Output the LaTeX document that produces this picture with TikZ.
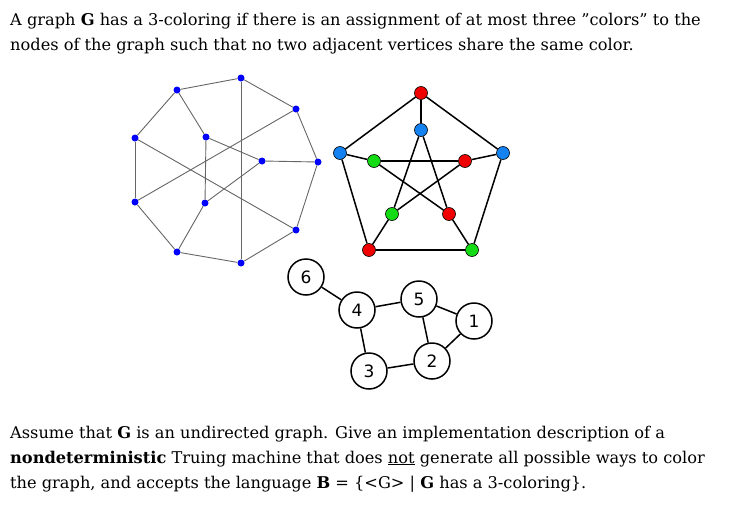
\documentclass[tikz,border=0pt]{standalone}
\usepackage{fontspec}
\setmainfont{DejaVu Serif}
\setsansfont{DejaVu Sans}
\begin{document}
\begin{tikzpicture}[x=1pt,y=-1pt,
  txt/.style={anchor=base west,inner sep=0,font=\fontsize{16.2}{19}\selectfont},
  bdot/.style={circle,fill=blue,inner sep=0,minimum size=7pt},
  cdot/.style={circle,draw=black,line width=0.6pt,inner sep=0,minimum size=13pt},
  gedge/.style={draw=gray!80!black,line width=0.9pt},
  pedge/.style={draw=black,line width=1.5pt},
  num/.style={circle,draw=black,line width=1.5pt,fill=white,inner sep=0,minimum size=36pt,font=\sffamily\fontsize{17}{17}\selectfont}]
\useasboundingbox (0,0) rectangle (740,509);
\node[txt] (t1) at (10,25) {A graph \textbf{G} has a 3-coloring if there is an assignment of at most three \symbol{34}colors\symbol{34} to the};
\node[txt] (t2) at (10,50) {nodes of the graph such that no two adjacent vertices share the same color.};
\node[txt] (t3) at (10,438) {Assume that \textbf{G} is an undirected graph. Give an implementation description of a};
\node[txt] (t4) at (10,463) {\textbf{nondeterministic} Truing machine that does \underline{not} generate all possible ways to color};
\node[txt] (t5) at (10,488) {the graph, and accepts the language \textbf{B} = \{<G> | \textbf{G} has a 3-coloring\}.};
% left graph
\node[bdot] (a) at (241,78) {};
\node[bdot] (b) at (177,90) {};
\node[bdot] (c) at (296,109) {};
\node[bdot] (d) at (135,138) {};
\node[bdot] (e) at (206,137) {};
\node[bdot] (f) at (262,161) {};
\node[bdot] (g) at (318,162) {};
\node[bdot] (h) at (135,202) {};
\node[bdot] (i) at (205,203) {};
\node[bdot] (j) at (296,230) {};
\node[bdot] (k) at (177,252) {};
\node[bdot] (l) at (241,263) {};
\foreach \u/\v in {a/b,a/c,a/l,b/d,b/e,c/g,c/h,d/h,d/j,e/i,e/f,f/g,f/i,g/j,h/k,i/k,j/l,k/l}
  \draw[gedge] (\u) -- (\v);
% Petersen
\definecolor{pr}{RGB}{240,0,0}\definecolor{pb}{RGB}{20,130,240}\definecolor{pg}{RGB}{20,220,20}
\node[cdot,fill=pr] (o1) at (421,93) {};
\node[cdot,fill=pb] (o2) at (503,153) {};
\node[cdot,fill=pg] (o3) at (472,250) {};
\node[cdot,fill=pr] (o4) at (369,250) {};
\node[cdot,fill=pb] (o5) at (340,153) {};
\node[cdot,fill=pb] (i1) at (421,130) {};
\node[cdot,fill=pr] (i2) at (465,161) {};
\node[cdot,fill=pr] (i3) at (449,214) {};
\node[cdot,fill=pg] (i4) at (392,214) {};
\node[cdot,fill=pg] (i5) at (374,161) {};
\foreach \u/\v in {o1/o2,o2/o3,o3/o4,o4/o5,o5/o1,o1/i1,o2/i2,o3/i3,o4/i4,o5/i5,i1/i3,i1/i4,i2/i4,i2/i5,i3/i5}
  \draw[pedge] (\u) -- (\v);
% small graph
\node[num] (n6) at (306,277) {6};
\node[num] (n4) at (357,310) {4};
\node[num] (n5) at (419,299) {5};
\node[num] (n1) at (474,321) {1};
\node[num] (n2) at (432,361) {2};
\node[num] (n3) at (369,371) {3};
\foreach \u/\v in {n6/n4,n4/n5,n4/n3,n3/n2,n2/n5,n5/n1,n1/n2}
  \draw[pedge] (\u) -- (\v);
\end{tikzpicture}
\end{document}
